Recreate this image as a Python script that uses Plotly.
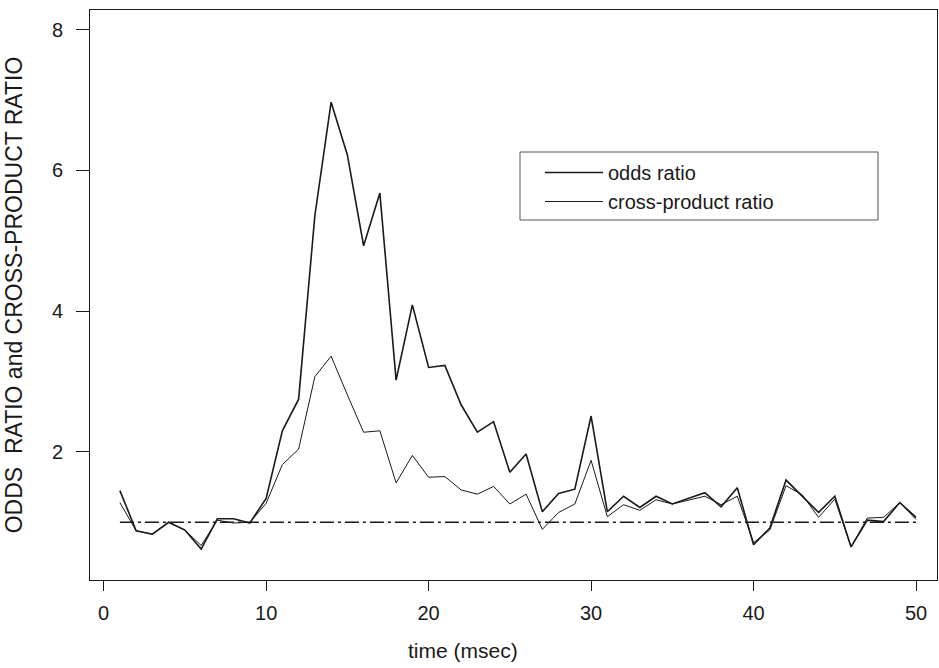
import plotly.graph_objects as go

time_ms = list(range(1, 51))
odds_ratio = [1.45, 0.88, 0.83, 1.00, 0.89, 0.62, 1.05, 1.05, 0.99, 1.34,
              2.30, 2.75, 5.36, 6.97, 6.22, 4.93, 5.68, 3.02, 4.09, 3.20,
              3.23, 2.67, 2.28, 2.43, 1.71, 1.97, 1.15, 1.41, 1.47, 2.51,
              1.15, 1.37, 1.21, 1.37, 1.26, 1.34, 1.42, 1.22, 1.49, 0.68,
              0.92, 1.60, 1.37, 1.14, 1.37, 0.65, 1.03, 1.01, 1.28, 1.07]
cross_product_ratio = [1.28, 0.88, 0.83, 1.00, 0.89, 0.67, 1.03, 0.99, 1.00, 1.27,
                       1.82, 2.04, 3.07, 3.36, 2.81, 2.28, 2.30, 1.56, 1.95, 1.64,
                       1.65, 1.46, 1.40, 1.51, 1.26, 1.40, 0.90, 1.14, 1.26, 1.88,
                       1.08, 1.25, 1.17, 1.32, 1.26, 1.32, 1.37, 1.25, 1.37, 0.71,
                       0.89, 1.52, 1.39, 1.07, 1.33, 0.65, 1.06, 1.07, 1.28, 1.04]
reference_x = [1, 50]
reference_y = [1, 1]

x_ticks = [0, 10, 20, 30, 40, 50]
y_ticks = [2, 4, 6, 8]

FONT = "Liberation Sans, Arial, Helvetica, sans-serif"
INK = "#1a1a1a"

# plot area in pixels
L, R, T, B = 90, 937, 10, 580
W, H = 939, 668
PW, PH = R - L, B - T

def px_x(p):
    return (p - L) / PW

def px_y(p):
    return (B - p) / PH

fig = go.Figure()
fig.add_trace(go.Scatter(x=time_ms, y=odds_ratio, mode="lines", name="odds ratio",
                         line=dict(color=INK, width=1.6)))
fig.add_trace(go.Scatter(x=time_ms, y=cross_product_ratio, mode="lines",
                         name="cross-product ratio",
                         line=dict(color=INK, width=1.0)))
fig.add_trace(go.Scatter(x=reference_x, y=reference_y, mode="lines", showlegend=False,
                         line=dict(color=INK, width=1.6, dash="14px,4px,3px,4px")))

fig.update_layout(
    width=W, height=H,
    margin=dict(l=L, r=W - R, t=T, b=H - B),
    paper_bgcolor="white", plot_bgcolor="white",
    font=dict(family=FONT, size=20, color=INK),
    showlegend=True,
    legend=dict(x=px_x(540), y=px_y(153), xanchor="left", yanchor="top",
                bgcolor="rgba(0,0,0,0)", borderwidth=0,
                font=dict(family=FONT, size=20, color=INK),
                itemwidth=58, tracegroupgap=0),
    shapes=[dict(type="rect", xref="paper", yref="paper",
                 x0=px_x(520), x1=px_x(878), y0=px_y(220), y1=px_y(152),
                 line=dict(color="#555555", width=1))],
    annotations=[dict(text="time (msec)", xref="paper", yref="paper",
                      x=px_x(463), y=px_y(650), xanchor="center", yanchor="middle",
                      showarrow=False, font=dict(family=FONT, size=21, color=INK))],
)
fig.update_xaxes(range=[-0.84, 51.29], tickvals=x_ticks, ticktext=[str(v) for v in x_ticks],
                 showgrid=False, zeroline=False, showline=True, mirror=True,
                 linecolor=INK, linewidth=1, ticks="outside", ticklen=10, tickcolor=INK,
                 tickfont=dict(size=20), ticklabelstandoff=5)
fig.update_yaxes(range=[0.18, 8.28], tickvals=y_ticks, ticktext=[str(v) for v in y_ticks],
                 showgrid=False, zeroline=False, showline=True, mirror=True,
                 linecolor=INK, linewidth=1, ticks="outside", ticklen=13, tickcolor=INK,
                 tickfont=dict(size=20), ticklabelstandoff=9,
                 title=dict(text="ODDS  RATIO and CROSS-PRODUCT RATIO", standoff=22,
                            font=dict(size=23)))

fig.write_html("out.html")
